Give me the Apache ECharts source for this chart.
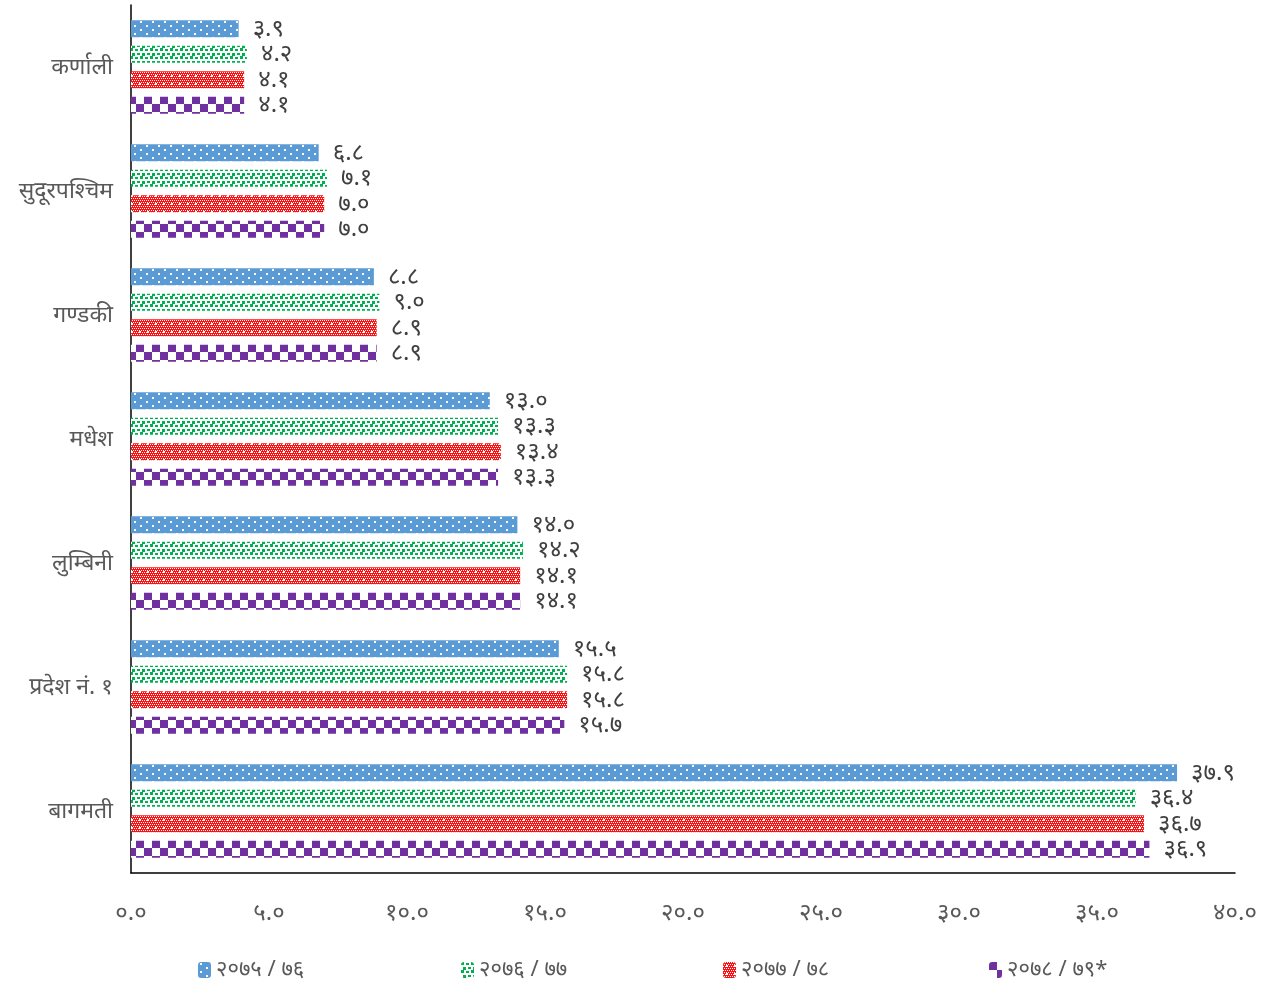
<!DOCTYPE html>
<html><head><meta charset="utf-8">
<script src="https://cdn.jsdelivr.net/npm/echarts@6/dist/echarts.min.js"></script>
<style>html,body{margin:0;padding:0;background:#fff}#c{width:1283px;height:986px}</style>
</head><body><div id="c"></div>
<script>
const categories = ['कर्णाली', 'सुदूरपश्चिम', 'गण्डकी', 'मधेश', 'लुम्बिनी', 'प्रदेश नं. १', 'बागमती'];
const seriesNames = ['२०७५ / ७६', '२०७६ / ७७', '२०७७ / ७८', '२०७८ / ७९*'];
const s1 = [3.9, 6.8, 8.8, 13.0, 14.0, 15.5, 37.9];
const s2 = [4.2, 7.1, 9.0, 13.3, 14.2, 15.8, 36.4];
const s3 = [4.1, 7.0, 8.9, 13.4, 14.1, 15.8, 36.7];
const s4 = [4.1, 7.0, 8.9, 13.3, 14.1, 15.7, 36.9];
const xTicks = [0, 5, 10, 15, 20, 25, 30, 35, 40];

const DEV = '०१२३४५६७८९';
function toDev(s){ return String(s).replace(/[0-9]/g, d => DEV[+d]); }

function mk(w,h,draw){const c=document.createElement('canvas');c.width=w;c.height=h;draw(c.getContext('2d'));return c;}
const blueP = mk(12,8,g=>{g.fillStyle='#5B9BD5';g.fillRect(0,0,12,8);g.fillStyle='#ffffff';g.fillRect(2,1,2,2);g.fillRect(8,5,2,2);});
const greenP = mk(10,8,g=>{g.fillStyle='#ffffff';g.fillRect(0,0,10,8);g.fillStyle='#00B050';g.fillRect(0,0,3,3);g.fillRect(5,1,3,2);g.fillRect(2,5,3,3);g.fillRect(7,5,3,2);});
const redP = mk(8,8,g=>{g.fillStyle='#FF1010';g.fillRect(0,0,8,8);g.fillStyle='#ffffff';for(let y=0;y<8;y+=2)for(let x=(y/2)%2;x<8;x+=2)g.fillRect(x,y,1,1);g.fillRect(3,3,2,2);});
const purpleP = mk(16,16,g=>{g.fillStyle='#ffffff';g.fillRect(0,0,16,16);g.fillStyle='#7030A0';g.fillRect(0,0,8,8);g.fillRect(8,8,8,8);});
const patterns = [blueP, greenP, redP, purpleP];
const data = [s1, s2, s3, s4];

const FONT = "'Noto Sans', 'Noto Sans Devanagari', sans-serif";
const chart = echarts.init(document.getElementById('c'));
const legendLefts = [193, 456, 718, 984];
chart.setOption({
  animation:false,
  textStyle:{fontFamily:FONT},
  grid:{left:131, right:48, top:5, bottom:113},
  legend: seriesNames.map((n,i)=>({data:[n], left:legendLefts[i], top:954, itemWidth:13, itemHeight:16, itemGap:0,
    textStyle:{fontSize:22, color:'#595959', fontFamily:FONT}})),
  xAxis:{type:'value', min:0, max:40, interval:5,
    axisLine:{show:true, lineStyle:{color:'#000', width:1.5}}, axisTick:{show:false}, splitLine:{show:false},
    axisLabel:{color:'#595959', fontSize:24, margin:28, formatter:v=>toDev(v.toFixed(1))}},
  yAxis:{type:'category', data:categories, inverse:true,
    axisLine:{show:true, lineStyle:{color:'#000', width:1.5}}, axisTick:{show:false},
    axisLabel:{color:'#595959', fontSize:23, margin:18}},
  series: data.map((d,i)=>({name:seriesNames[i], type:'bar', data:d, barWidth:17, barGap:'50%',
    itemStyle:{color:{image:patterns[i], repeat:'repeat'}},
    label:{show:true, position:'right', distance:14, color:'#404040', fontSize:24, formatter:p=>toDev(p.value.toFixed(1))}}))
});
</script></body></html>
